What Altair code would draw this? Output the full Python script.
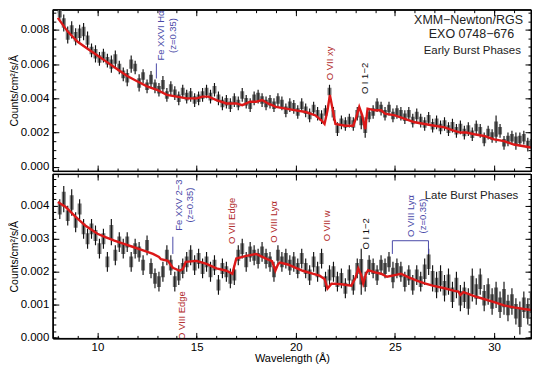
import altair as alt
import pandas as pd

# ---------------- data ----------------
# RGS bin centres (0.2 A bins from 8 to 32 A)
wl = [round(8.1 + 0.2 * i, 1) for i in range(120)]

top_flux = [
    .0090, .0084, .0077, .0080, .0076, .0078, .0079, .0074, .0068, .0066,
    .0063, .0065, .0062, .0060, .0063, .0058, .0054, .0052, .0060, .0058,
    .0049, .0053, .0047, .0051, .0047, .0045, .0048, .0042, .0046, .0043,
    .0040, .0044, .0041, .0042, .0039, .0040, .0042, .0044, .0041, .0045,
    .0040, .0037, .0038, .0036, .0039, .0037, .0042, .0038, .0036, .0040,
    .0041, .0039, .0037, .0038, .0036, .0039, .0037, .0033, .0036, .0035,
    .0032, .0036, .0033, .0030, .0034, .0031, .0029, .0032, .0044, .0031,
    .0022, .0026, .0025, .0027, .0025, .0031, .0027, .0023, .0030, .0032,
    .0036, .0034, .0031, .0034, .0030, .0032, .0031, .0029, .0031, .0027,
    .0030, .0027, .0025, .0028, .0024, .0026, .0023, .0025, .0022, .0024,
    .0021, .0023, .0020, .0022, .0019, .0023, .0021, .0016, .0020, .0018,
    .0022, .0021, .0014, .0016, .0017, .0015, .0016, .0017, .0013, .0014,
]
top_err = [
    .0005, .0005, .0005, .0005, .0005, .0005, .0005, .0005, .0004, .0005,
    .0004, .0004, .0004, .0005, .0005, .0004, .0004, .0005, .0005, .0004,
    .0005, .0004, .0004, .0005, .0004, .0004, .0005, .0004, .0004, .0004,
    .0004, .0004, .0004, .0004, .0004, .0004, .0004, .0004, .0004, .0004,
    .0004, .0004, .0004, .0004, .0004, .0004, .0004, .0004, .0004, .0004,
    .0004, .0004, .0004, .0004, .0004, .0004, .0004, .0004, .0004, .0004,
    .0004, .0004, .0004, .0004, .0004, .0004, .0004, .0004, .0004, .0004,
    .0004, .0004, .0004, .0004, .0004, .0004, .0005, .0006, .0004, .0004,
    .0004, .0004, .0004, .0004, .0004, .0004, .0004, .0004, .0004, .0004,
    .0004, .0004, .0004, .0004, .0004, .0004, .0004, .0004, .0004, .0004,
    .0004, .0004, .0004, .0004, .0004, .0004, .0004, .0004, .0004, .0004,
    .0008, .0004, .0004, .0004, .0004, .0005, .0004, .0004, .0004, .0004,
]

bot_flux = [
    .0039, .0042, .0037, .0041, .0035, .0039, .0033, .0030, .0033, .0031,
    .0027, .0030, .0023, .0032, .0025, .0029, .0027, .0029, .0023, .0027,
    .0026, .0022, .0028, .0021, .0018, .0017, .0020, .0025, .0022, .0017,
    .0019, .0021, .0023, .0025, .0022, .0024, .0021, .0023, .0020, .0022,
    .0016, .0021, .0020, .0018, .0019, .0025, .0027, .0023, .0026, .0025,
    .0024, .0026, .0024, .0023, .0020, .0025, .0023, .0024, .0022, .0023,
    .0021, .0024, .0021, .0019, .0023, .0020, .0024, .0017, .0019, .0020,
    .0017, .0018, .0015, .0019, .0016, .0021, .0020, .0017, .0022, .0021,
    .0019, .0022, .0021, .0023, .0019, .0021, .0020, .0017, .0019, .0016,
    .0019, .0017, .0020, .0023, .0018, .0016, .0018, .0015, .0017, .0013,
    .0016, .0012, .0013, .0011, .0016, .0014, .0017, .0012, .0014, .0011,
    .0013, .0010, .0012, .0009, .0011, .0008, .0006, .0010, .0008, .0011,
]
bot_err = [
    .0003, .0004, .0003, .0004, .0003, .0003, .0003, .0003, .0003, .0003,
    .0003, .0003, .0003, .0004, .0003, .0003, .0003, .0003, .0003, .0003,
    .0003, .0003, .0003, .0003, .0003, .0003, .0003, .0003, .0003, .0003,
    .0003, .0003, .0003, .0003, .0003, .0003, .0003, .0003, .0003, .0003,
    .0003, .0003, .0003, .0003, .0003, .0003, .0003, .0003, .0003, .0003,
    .0003, .0003, .0003, .0003, .0003, .0003, .0003, .0003, .0003, .0003,
    .0003, .0003, .0003, .0003, .0003, .0003, .0003, .0003, .0003, .0003,
    .0003, .0003, .0003, .0003, .0003, .0003, .0007, .0003, .0003, .0003,
    .0003, .0003, .0003, .0003, .0004, .0003, .0003, .0003, .0003, .0003,
    .0003, .0003, .0004, .0004, .0004, .0004, .0004, .0004, .0004, .0004,
    .0004, .0004, .0004, .0004, .0005, .0004, .0004, .0004, .0004, .0004,
    .0004, .0004, .0005, .0004, .0004, .0004, .0005, .0004, .0004, .0005,
]

# folded model curves
top_model_wl = [8.0, 8.5, 9.0, 9.5, 10.0, 10.5, 11.0, 11.5, 12.0, 12.5, 13.0, 13.5,
                14.0, 14.5, 15.0, 15.3, 15.6, 16.0, 16.5, 17.0, 17.3, 17.7, 18.0,
                18.3, 18.6, 19.0, 19.5, 20.0, 20.5, 21.0, 21.3, 21.45, 21.6, 21.72,
                21.85, 22.0, 22.5, 22.9, 23.05, 23.2, 23.35, 23.5, 23.62, 24.0,
                24.3, 24.5, 25.0, 25.5, 26.0, 26.5, 27.0, 27.5, 28.0, 28.3, 28.6,
                29.0, 29.5, 30.0, 30.5, 31.0, 31.5, 32.0]
top_model = [.0087, .0079, .0073, .0069, .0065, .0061, .0057, .0053, .0050, .0047,
             .0045, .0042, .0041, .0040, .0040, .0041, .0041, .0039, .0037, .0037,
             .0036, .0038, .0038, .0039, .0037, .0035, .0034, .0033, .0032, .0030,
             .0027, .0025, .0033, .0042, .0034, .0025, .0024, .0024, .0029, .0035,
             .0030, .0022, .0034, .0033, .0033, .0031, .0030, .0028, .0026, .0025,
             .0024, .0023, .0021, .0020, .0020, .0019, .0018, .0016, .0015, .0013,
             .0012, .0011]

bot_model_wl = [8.0, 8.4, 8.9, 9.4, 10.0, 10.4, 10.85, 11.3, 11.8, 12.3, 12.8, 13.1,
                13.2, 13.55, 13.8, 14.15, 14.3, 14.45, 15.0, 15.5, 16.0, 16.5, 16.8,
                17.0, 17.5, 18.0, 18.5, 18.8, 18.97, 19.1, 19.2, 19.6, 20.0, 20.35,
                20.8, 21.2, 21.45, 21.6, 21.8, 22.3, 22.8, 23.0, 23.15, 23.3, 23.4,
                23.55, 23.65, 24.0, 24.3, 24.6, 25.0, 25.3, 25.7, 26.1, 26.5, 26.9,
                27.5, 28.0, 28.2, 28.3, 28.45, 29.0, 29.4, 30.0, 30.5, 31.0, 31.5,
                32.0]
bot_model = [.00411, .00396, .00366, .00339, .00315, .00305, .00294, .00285, .00275,
             .00265, .00254, .00245, .00238, .00233, .00212, .00203, .00208, .00230,
             .00233, .00224, .00210, .00203, .00194, .00240, .00248, .00254, .00240,
             .00232, .00203, .00222, .00228, .00222, .00212, .00203, .00195, .00188,
             .00178, .00149, .00164, .00162, .00158, .00180, .00210, .00190, .00164,
             .00195, .00205, .00198, .00194, .00185, .00190, .00194, .00183, .00173,
             .00165, .00158, .00150, .00142, .00140, .00130, .00138, .00126, .00119,
             .00108, .00098, .00092, .00087, .00083]

# annotations (rotated line labels)
top_lab_text = ["Fe XXVI Hα\n(z=0.35)", "O VII xy", "O I 1−2"]
top_lab_wl = [13.21, 21.72, 23.49]
top_lab_val = [0.00767, 0.00604, 0.00516]
top_lab_col = ["#4a4aa8", "#b02828", "#111111"]

bot_lab_text = ["Fe XXV 2−3\n(z=0.35)", "O VIII Edge", "O VII Edge", "O VIII Lyα",
                "O VII w", "O I 1−2", "O VIII Lyα\n(z=0.35)"]
bot_lab_wl = [14.10, 14.25, 16.76, 18.92, 21.58, 23.54, 25.83]
bot_lab_val = [0.00402, 0.00067, 0.00354, 0.00351, 0.00339, 0.00315, 0.00369]
bot_lab_col = ["#4a4aa8", "#b02828", "#b02828", "#b02828", "#b02828", "#111111",
               "#4a4aa8"]

top_title_text = ["XMM−Newton/RGS", "EXO 0748−676", "Early Burst Phases"]
top_title_wl = [28.71, 28.86, 28.90]
top_title_val = [0.00860, 0.00773, 0.00679]
top_title_size = [12.5, 12.5, 11.5]

bot_title_text = ["Late Burst Phases"]
bot_title_wl = [28.86]
bot_title_val = [0.00429]

# marker ticks: Fe XXVI (top), Fe XXV (bottom)
top_tick_wl, top_tick_lo, top_tick_hi = [12.97], [0.00516], [0.00604]
bot_tick_wl, bot_tick_lo, bot_tick_hi = [13.80], [0.00254], [0.00306]
# bracket for redshifted O VIII Ly-alpha
br_wl = [24.87, 26.69]
br_top, br_bot = 0.00294, 0.00254

X_DOMAIN = [8, 31.61]
FONT = "Liberation Sans"
RED = "#dc1818"
BLUE = "#4a4aa8"
PLOT_W = 480


def build_df(flux, err):
    return pd.DataFrame({
        "wl": wl, "flux": flux, "err": err,
        "lo": [f - e for f, e in zip(flux, err)],
        "hi": [f + e for f, e in zip(flux, err)],
        "blo": [f - 0.55 * e for f, e in zip(flux, err)],
        "bhi": [f + 0.55 * e for f, e in zip(flux, err)],
    })


def axis(orient, values, size, labels=False, title=None, fmt=None, lpad=3, tpad=2,
         lsize=11.5, tsize=11.5):
    kw = dict(orient=orient, values=values, tickSize=size, offset=-size,
              domain=False, grid=False, labels=labels, ticks=True,
              tickColor="black", tickWidth=1, labelFont=FONT, labelFontSize=lsize,
              labelColor="black", labelPadding=lpad, titleFont=FONT,
              titleFontSize=tsize, titleFontWeight="normal", titleColor="black",
              titlePadding=tpad, title=title)
    if fmt:
        kw["format"] = fmt
    return alt.Axis(**kw)


def edge(orient):
    # plain frame line along one side of the panel
    return alt.Axis(orient=orient, domain=True, domainColor="black", domainWidth=1,
                    ticks=False, labels=False, grid=False, title=None, offset=0)


def panel(df, mwl, mval, ydom, ymaj, ymin_ticks, height, xlabels,
          lab_text, lab_wl, lab_val, lab_col, titles, ticks, bracket=None):
    xs = alt.Scale(domain=X_DOMAIN, nice=False, zero=False)
    ys = alt.Scale(domain=ydom, nice=False, zero=False)
    xmaj = [10, 15, 20, 25, 30]
    xmin = list(range(8, 32))

    boxes = alt.Chart(df).mark_bar(size=4, color="#777777", clip=True).encode(
        x=alt.X("wl:Q", scale=xs,
                axis=axis("bottom", xmaj, 6, labels=xlabels,
                          title="Wavelength (Å)" if xlabels else None, lpad=3,
                          tpad=0, lsize=11.5, tsize=11)),
        y=alt.Y("blo:Q", scale=ys,
                axis=axis("left", ymaj, 6, labels=True, title="Counts/cm²/s/Å",
                          fmt=".3f", lpad=4, tpad=1, lsize=11.5, tsize=10.5)),
        y2="bhi:Q",
    )
    errs = alt.Chart(df).mark_rule(color="#111111", strokeWidth=1.15, clip=True).encode(
        x=alt.X("wl:Q", scale=xs, axis=axis("top", xmaj, 6)),
        y=alt.Y("lo:Q", scale=ys, axis=axis("right", ymaj, 6)),
        y2="hi:Q",
    )
    mdf = pd.DataFrame({"wl": mwl, "v": mval})
    model = alt.Chart(mdf).mark_line(color=RED, strokeWidth=2.4, clip=True).encode(
        x=alt.X("wl:Q", scale=xs, axis=axis("bottom", xmin, 3)),
        y=alt.Y("v:Q", scale=ys, axis=axis("left", ymin_ticks, 3)),
    )
    ldf = pd.DataFrame({"t": lab_text, "wl": lab_wl, "v": lab_val, "c": lab_col})
    labels = alt.Chart(ldf).mark_text(angle=270, align="center", baseline="middle",
                                      font=FONT, fontSize=9.5, lineBreak="\n").encode(
        x=alt.X("wl:Q", scale=xs, axis=axis("top", xmin, 3)),
        y=alt.Y("v:Q", scale=ys, axis=axis("right", ymin_ticks, 3)),
        text="t:N",
        color=alt.Color("c:N", scale=None),
    )
    tdf = pd.DataFrame(titles)
    ttl = alt.Chart(tdf).mark_text(align="center", baseline="middle", font=FONT,
                                   color="#222222").encode(
        x=alt.X("wl:Q", scale=xs, axis=edge("bottom")),
        y=alt.Y("v:Q", scale=ys, axis=edge("left")),
        text="t:N",
        size=alt.Size("s:Q", scale=None, legend=None),
    )
    kdf = pd.DataFrame({"wl": ticks[0], "lo": ticks[1], "hi": ticks[2]})
    tick = alt.Chart(kdf).mark_rule(color=BLUE, strokeWidth=1).encode(
        x=alt.X("wl:Q", scale=xs, axis=edge("top")),
        y=alt.Y("lo:Q", scale=ys, axis=edge("right")),
        y2="hi:Q",
    )
    frame = alt.Chart(pd.DataFrame({"f": [0]})).mark_rect(
        fill="transparent", stroke="black", strokeWidth=1).encode(
        x=alt.value(0), x2=alt.value("width"), y=alt.value(0), y2=alt.value("height"))
    layers = [boxes, errs, model, labels, ttl, tick]
    if bracket is not None:
        bw, btop, bbot = bracket
        hdf = pd.DataFrame({"a": [bw[0]], "b": [bw[1]], "v": [btop]})
        hrule = alt.Chart(hdf).mark_rule(color=BLUE, strokeWidth=1).encode(
            x=alt.X("a:Q", scale=xs, axis=None), x2="b:Q",
            y=alt.Y("v:Q", scale=ys, axis=None))
        vdf = pd.DataFrame({"wl": bw, "lo": [bbot, bbot], "hi": [btop, btop]})
        vrule = alt.Chart(vdf).mark_rule(color=BLUE, strokeWidth=1).encode(
            x=alt.X("wl:Q", scale=xs, axis=None),
            y=alt.Y("lo:Q", scale=ys, axis=None), y2="hi:Q")
        layers += [hrule, vrule]
    layers.append(frame)
    return alt.layer(*layers).resolve_axis(x="independent", y="independent").properties(
        width=PLOT_W, height=height)


top_df = build_df(top_flux, top_err)
bot_df = build_df(bot_flux, bot_err)

top = panel(top_df, top_model_wl, top_model, [-0.00025, 0.00918],
            [0.0, 0.002, 0.004, 0.006, 0.008],
            [round(0.0005 * i, 4) for i in range(19)], 162, False,
            top_lab_text, top_lab_wl, top_lab_val, top_lab_col,
            {"t": top_title_text, "wl": top_title_wl, "v": top_title_val,
             "s": top_title_size},
            (top_tick_wl, top_tick_lo, top_tick_hi))

bot = panel(bot_df, bot_model_wl, bot_model, [-0.00002, 0.00496],
            [0.0, 0.001, 0.002, 0.003, 0.004],
            [round(0.0002 * i, 4) for i in range(25)], 165, True,
            bot_lab_text, bot_lab_wl, bot_lab_val, bot_lab_col,
            {"t": bot_title_text, "wl": bot_title_wl, "v": bot_title_val,
             "s": [11.5]},
            (bot_tick_wl, bot_tick_lo, bot_tick_hi),
            bracket=(br_wl, br_top, br_bot))

chart = alt.vconcat(top, bot, spacing=0).properties(
    padding=0, background="white").configure_view(stroke="black", strokeWidth=1)

chart.save("out.html", embed_options={"renderer": "svg", "actions": False})
